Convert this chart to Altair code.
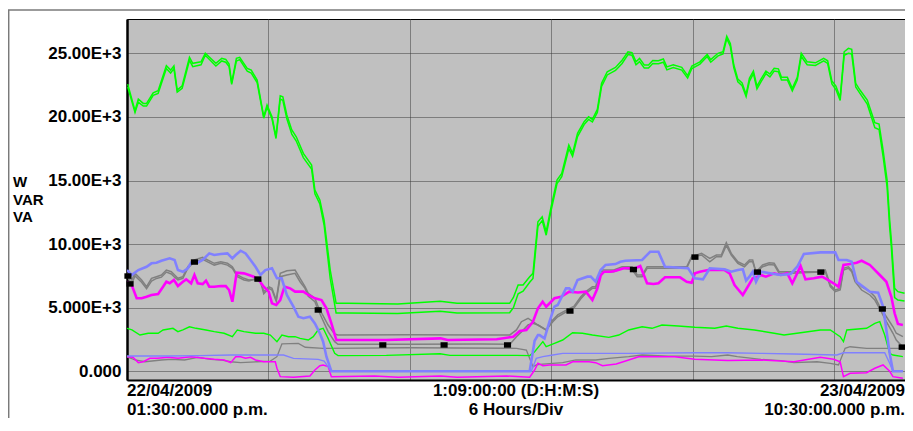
import altair as alt
import pandas as pd

# Time in hours after 22/04/2009 01:30 p.m.; span 33 h (1:09:00:00), 6 h per division
SPAN_H = 33
X_GRID = [6, 12, 18, 24, 30]
Y_TICKS = [0, 5000, 10000, 15000, 20000, 25000]
Y_DOMAIN = [-684, 27697]

LEFT_LABEL = ["22/04/2009", "01:30:00.000 p.m."]
CENTER_LABEL = ["1:09:00:00 (D:H:M:S)", "6 Hours/Div"]
RIGHT_LABEL = ["23/04/2009", "10:30:00.000 p.m."]
UNITS = ["W", "VAR", "VA"]

# (hour, VA, W) total
GREEN = [(0.03,22580,22350),(0.34,20480,20350),(0.48,21400,21150),(0.69,21060,20850),(0.83,21060,20850),
(1.11,21900,21700),(1.32,22060,21850),(1.67,24020,23800),(1.85,23680,23450),(1.99,24020,23800),
(2.13,22110,21950),(2.34,22450,22250),(2.65,24680,24450),(2.79,24210,23950),(3.14,24330,24100),
(3.32,25000,24850),(3.77,24210,24000),(4.02,24600,24400),(4.19,24520,24300),(4.33,24150,23950),
(4.44,22680,22550),(4.64,24600,24400),(4.78,24680,24500),(5.10,23820,23600),(5.27,23680,23450),
(5.52,22900,22700),(5.80,20010,19900),(5.94,20930,20750),(6.15,20010,19850),(6.32,18440,18300),
(6.50,21660,21400),(6.61,21580,21300),(6.78,20150,19850),(6.99,18970,18650),(7.18,18440,18100),
(7.48,17130,16800),(7.83,16220,15900),(7.97,14250,13950),(8.18,13460,13150),(8.36,11890,11500),
(8.62,7960,7300),(8.87,5345,4580),(9.37,5345,4580),(11.48,5300,4550),(13.28,5500,4720),(14.00,5345,4580),
(16.23,5345,4600),(16.39,5800,5000),(16.59,6780,6100),(16.80,6780,6300),(17.08,7440,7000),(17.22,7700,7300),
(17.43,11760,11400),(17.61,12150,11850),(17.78,10970,10700),(17.99,12940,12650),(18.24,15040,14750),
(18.44,15560,15300),(18.74,17790,17500),(18.90,17130,16900),(19.11,18710,18450),(19.39,19620,19400),
(19.58,20010,19800),(19.74,19810,19600),(19.95,20590,20350),(20.13,22640,22400),(20.37,23550,23300),
(20.72,23890,23650),(21.00,24450,24200),(21.25,25120,24900),(21.42,25050,24850),(21.59,24330,24100),
(21.74,24600,24350),(21.94,24080,23850),(22.12,24080,23850),(22.30,24440,24200),(22.54,24410,24180),
(22.75,24550,24300),(22.90,23930,23700),(23.17,24100,23880),(23.53,23900,23680),(23.78,23250,23050),
(23.96,24000,23800),(24.30,24330,24150),(24.61,24920,24750),(24.76,24500,24300),(25.07,25000,24800),
(25.28,25120,24950),(25.44,26350,26150),(25.59,25780,25550),(25.74,24080,23850),(25.91,22970,22750),
(26.09,22680,22450),(26.26,21770,21600),(26.40,23030,22800),(26.57,23600,23400),(26.72,22420,22200),
(26.89,22970,22750),(27.10,23600,23400),(27.27,23370,23150),(27.45,23820,23600),(27.63,23780,23550),
(27.76,23110,22900),(28.01,23110,22900),(28.22,22240,22050),(28.43,23110,22900),(28.60,25000,24750),
(28.85,24330,24100),(29.20,24250,24050),(29.55,24600,24400),(29.72,24410,24200),(29.90,22820,22600),
(30.07,22420,22150),(30.25,21530,21300),(30.42,25120,24850),(30.60,25390,25000),(30.74,25310,24950),
(30.91,22640,22350),(31.09,22110,21850),(31.40,21320,21000),(31.72,19540,19150),(31.90,19440,19000),
(32.07,17390,16900),(32.24,15040,14500),(32.35,11890,11300),(32.42,10320,9800),(32.56,6520,5800),
(32.70,6260,5600),(32.98,6130,5530)]

GREEN_VAR = [(0.00,3380),(0.21,3250),(0.55,2850),(0.90,2990),(1.32,2990),(1.53,3250),(1.95,3380),(2.16,3120),
(2.37,3250),(2.65,3500),(2.93,3380),(3.35,3250),(3.70,3120),(4.12,2990),(4.47,2720),(4.68,3250),(4.96,3120),
(5.45,2990),(5.80,2990),(6.08,2850),(6.36,2330),(6.57,2850),(6.85,2720),(7.13,2720),(7.34,2590),(7.69,2460),
(7.90,2720),(8.11,3250),(8.32,3380),(8.53,2590),(8.81,1410),(8.95,1230),(11.0,1250),(13.28,1380),(13.7,1250),
(16.52,1250),(17.08,1230),(17.29,1540),(17.64,2330),(17.78,1930),(18.13,2200),(18.48,2460),(18.90,3030),
(19.32,2990),(19.74,2850),(20.44,2670),(20.86,2850),(21.28,3250),(21.85,3500),(22.27,3380),(22.69,3640),
(23.38,3560),(24.09,3460),(24.93,3380),(25.42,3560),(25.91,3380),(26.61,3250),(27.45,2990),(27.87,2850),
(28.57,3030),(29.41,3250),(29.83,3250),(30.25,2720),(30.39,2330),(30.53,3250),(31.37,3380),(31.72,3770),
(31.93,3900),(32.14,2850),(32.35,1410),(32.49,1280),(32.91,1150)]

# (hour, VA, W) phase shown in gray
GRAY = [(0.00,7700,7490),(0.20,7180,6900),(0.34,7700,7500),(0.62,7180,7000),(0.83,6650,6500),(1.04,7310,7100),
(1.25,7440,7300),(1.46,7570,7400),(1.67,7960,7800),(1.88,7830,7650),(2.02,7570,7400),(2.16,7310,7180),
(2.37,7440,7310),(2.58,8220,8100),(2.86,8750,8590),(3.21,8960,8800),(3.42,8750,8600),(3.70,8490,8350),
(3.98,8610,8490),(4.26,8490,8350),(4.47,8220,8100),(4.68,7570,7440),(4.96,7310,7180),(5.17,7180,7100),
(5.45,7230,7250),(5.66,7180,7050),(5.80,6260,6100),(6.01,6650,6520),(6.15,6520,6390),(6.33,5600,5500),
(6.50,7700,7440),(6.78,7910,7570),(7.13,7960,7700),(7.34,7310,7040),(7.55,6650,6520),(7.69,6130,5900),
(7.97,5740,5470),(8.11,5080,4820),(8.53,3640,3120),(8.81,2930,2330),(8.95,2860,2120),(12.0,2880,2120),
(15.0,2860,2140),(16.24,2860,2120),(16.52,3250,2720),(16.73,3900,3100),(17.01,4170,3640),(17.22,3900,3770),
(17.43,3640,3640),(17.78,3250,3250),(18.06,4030,3900),(18.27,4430,4290),(18.69,4870,4740),(18.97,5130,5000),
(19.25,5860,5700),(19.46,6260,6130),(19.74,6650,6520),(19.88,6650,6520),(20.09,7960,7830),(20.37,7960,7830),
(20.65,7960,7830),(21.00,8220,8100),(21.42,8220,8000),(21.64,7570,7440),(21.85,7570,7440),(22.06,8220,8100),
(22.82,8220,8100),(23.74,8220,8100),(23.95,9010,8980),(24.37,9270,9140),(24.72,8880,8610),(25.00,9140,9010),
(25.21,9140,9010),(25.42,10110,9900),(25.63,9270,9140),(25.91,8610,8490),(26.19,8360,8220),(26.40,8750,8610),
(26.54,8750,8610),(26.68,7800,7750),(26.96,8360,8220),(27.24,8540,8400),(27.45,8490,8360),(27.66,7830,7700),
(28.15,7830,7700),(29.41,7830,7800),(29.62,7960,7830),(29.83,6780,6650),(30.04,6390,6260),(30.25,6520,6390),
(30.39,8100,7960),(30.60,8220,8100),(30.74,7960,7830),(30.88,7180,7040),(31.16,6650,6390),(31.51,6260,6000),
(31.72,5860,5600),(31.93,5080,4900),(32.21,4290,3900),(32.49,3500,2990),(32.63,2990,2460),(32.91,2720,1900)]

GRAY_VAR = [(0.00,1150),(0.34,890),(0.76,750),(1.46,890),(1.88,940),(2.44,890),(3.00,1100),(3.56,940),(3.98,890),
(4.40,750),(4.82,680),(5.52,750),(6.08,800),(6.36,1150),(6.57,2150),(7.27,2200),(7.56,1890),(8.32,1810),
(12.0,1850),(16.52,1810),(16.94,1670),(17.22,360),(17.36,500),(17.64,570),(18.48,680),(19.04,890),(19.88,890),
(20.44,1020),(21.28,1150),(21.85,1280),(22.96,1200),(24.08,1200),(24.79,1150),(25.48,1280),(25.89,1150),
(26.89,940),(27.73,840),(28.29,680),(29.27,750),(29.83,630),(30.18,500),(30.46,1810),(30.67,1930),
(31.37,1810),(32.91,1810)]

MAGENTA = [(0.00,7040),(0.20,6780),(0.41,5740),(0.62,5740),(0.83,5860),(1.04,6000),(1.32,6080),(1.53,6650),
(1.67,7040),(1.81,6920),(1.99,7180),(2.16,6700),(2.37,7040),(2.51,7230),(2.72,6920),(2.86,7570),(3.00,6920),
(3.21,6860),(3.35,7130),(3.49,6650),(3.70,6650),(3.98,6700),(4.19,6700),(4.33,6390),(4.47,5470),(4.65,7750),
(4.96,7700),(5.17,7570),(5.38,7440),(5.59,7180),(5.80,6650),(6.01,6260),(6.15,5340),(6.33,5210),(6.50,5600),
(6.68,6650),(6.92,6520),(7.13,6260),(7.48,6260),(7.69,6000),(7.97,5740),(8.25,5600),(8.46,4950),(8.67,3770),
(8.88,2460),(11.0,2460),(13.30,2590),(13.6,2460),(15.68,2520),(16.38,2720),(16.66,3170),(16.94,3250),
(17.22,3900),(17.43,4950),(17.63,5470),(17.78,5080),(17.99,5470),(18.13,5740),(18.41,5860),(18.76,6260),
(19.13,6200),(19.46,6260),(19.74,5600),(19.95,6500),(20.10,7570),(20.24,7830),(20.52,7830),(20.73,7900),
(21.07,8100),(21.56,8100),(21.77,8280),(22.06,6920),(22.33,6860),(22.54,6920),(22.82,7390),(23.46,7390),
(23.74,7040),(23.95,6960),(24.09,7700),(24.30,7830),(24.65,7960),(25.35,7960),(25.56,7700),(25.77,6780),
(26.12,6000),(26.33,6650),(26.54,7310),(26.75,7440),(26.89,7570),(27.10,7440),(27.45,7700),(27.73,7570),
(28.01,7700),(28.22,6920),(28.36,7440),(28.57,8280),(28.78,7230),(29.13,7310),(29.48,7440),(29.69,7230),
(29.97,6920),(30.18,6650),(30.39,8360),(30.67,8430),(30.95,8540),(31.16,8690),(31.51,8360),(31.93,7570),
(32.21,7040),(32.42,5860),(32.56,4560),(32.70,3720),(32.91,3640)]

MAGENTA_VAR = [(0.00,1150),(0.25,1100),(0.48,680),(0.69,750),(0.97,1020),(1.30,1020),(1.74,1100),(2.16,1020),
(2.72,1150),(3.28,1020),(3.70,940),(4.12,890),(4.40,680),(4.61,1150),(4.82,1150),(5.03,1020),(5.24,1100),
(5.45,890),(5.80,750),(6.29,750),(6.36,240),(6.50,-420),(7.06,-470),(7.76,-370),(7.97,100),(8.18,440),
(8.32,500),(8.53,370),(8.67,-420),(10.50,-370),(11.5,-470),(13.30,-370),(14.0,-470),(16.10,-370),(17.08,-470),
(17.29,100),(17.43,630),(17.64,440),(17.92,500),(18.62,500),(18.90,750),(19.60,750),(19.88,680),(20.17,440),
(20.75,570),(21.28,890),(21.70,1150),(23.24,1150),(24.08,940),(25.48,840),(26.89,890),(28.29,750),
(29.41,1100),(29.97,940),(30.25,750),(30.39,-420),(30.67,-160),(31.37,-110),(31.72,240),(32.07,500),
(32.35,0),(32.49,-420),(32.91,-550)]

BLUE = [(0.00,7960),(0.20,7570),(0.48,7960),(0.83,8220),(1.04,8490),(1.25,8540),(1.46,8690),(1.81,8880),
(2.02,8750),(2.16,7960),(2.37,7830),(2.58,8100),(2.72,8540),(3.00,8540),(3.21,8750),(3.49,9270),(3.70,9140),
(3.98,9220),(4.26,9270),(4.47,8880),(4.61,9140),(4.82,9480),(5.03,9270),(5.24,8750),(5.45,8220),(5.66,7570),
(5.87,7960),(6.15,8100),(6.36,7310),(6.56,7310),(6.78,6000),(7.06,5080),(7.27,4290),(7.48,4170),(7.76,4290),
(7.97,3770),(8.18,2990),(8.32,2330),(8.46,1150),(8.67,0),(17.08,0),(17.29,2400),(17.43,2850),(17.50,2850),
(17.71,2590),(17.92,3900),(18.13,5080),(18.27,5210),(18.48,6000),(18.62,6520),(18.76,6520),(18.90,6260),
(19.11,7180),(19.53,7440),(19.67,7440),(19.88,7040),(20.09,7960),(20.30,8360),(20.72,8430),(20.93,8610),
(21.14,8690),(21.85,8750),(22.19,9400),(22.54,9400),(22.82,8220),(23.80,8100),(23.94,7700),(24.08,7310),
(24.43,7230),(24.72,8100),(25.35,8020),(25.63,7830),(25.91,7960),(26.12,8020),(26.26,7130),(26.40,7440),
(26.54,7830),(26.68,7040),(26.89,7830),(27.45,7650),(27.73,7570),(28.15,7650),(28.43,8220),(28.71,9220),
(29.41,9350),(30.04,9350),(30.18,8750),(30.53,8750),(30.74,8610),(30.95,7040),(31.23,6650),(31.51,6260),
(31.86,6180),(32.07,5080),(32.21,3250),(32.35,1410),(32.49,0),(32.91,0)]

BLUE_VAR = [(0.00,1200),(1.81,1200),(3.07,1230),(4.40,1280),(6.36,1280),(6.64,1280),(7.06,1020),(8.11,940),
(8.36,800),(8.67,0),(17.15,0),(17.36,1020),(17.64,1150),(18.06,1280),(18.48,1410),(21.27,1410),(24.08,1460),
(25.48,1460),(26.89,1410),(28.29,1360),(30.11,1280),(30.39,1460),(32.14,1460),(32.35,630),(32.49,0),(32.91,0)]

MARKERS = [(0.04,7490),(0.13,6870),(2.86,8590),(5.55,7250),(8.11,4820),(10.85,2070),(13.45,2070),(16.14,2070),
(18.79,4740),(21.48,8000),(24.09,8980),(26.74,7800),(29.43,7800),(32.04,4900),(32.88,1900)]

GREEN_C = "#00ff00"
MAGENTA_C = "#ff00ff"
BLUE_C = "#8080ff"
GRAY_C = "#808080"
FONT = "Liberation Sans"

W, H = 778, 361


def frame(points, col=1):
    return pd.DataFrame({"t": [p[0] for p in points], "v": [p[col] for p in points]})


X_SCALE = alt.Scale(domain=[0, SPAN_H], nice=False, zero=False)
X_ENC = alt.X("t:Q", scale=X_SCALE,
              axis=alt.Axis(values=X_GRID, labels=False, ticks=False, title=None, grid=True,
                            gridColor="#3a3a3a", gridDash=[1, 1], gridWidth=1,
                            domain=True, domainColor="black", domainWidth=2))
Y_ENC = alt.Y("v:Q", scale=alt.Scale(domain=Y_DOMAIN, nice=False, zero=False),
              axis=alt.Axis(values=Y_TICKS, ticks=False, title=None, grid=True,
                            gridColor="#3a3a3a", gridDash=[1, 1], gridWidth=1,
                            domain=True, domainColor="black", domainWidth=2.5,
                            labelPadding=6, labelFont=FONT, labelFontSize=17,
                            labelFontWeight="bold", labelColor="black",
                            labelExpr="datum.value == 0 ? '0.000' : (datum.value < 10000 ? format(datum.value/1000, '.3f') : format(datum.value/1000, '.2f')) + 'E+3'"))


def line(df, color, width):
    return alt.Chart(df).mark_line(color=color, strokeWidth=width, clip=True).encode(x=X_ENC, y=Y_ENC)


layers = [
    line(frame(GRAY_VAR), GRAY_C, 1.3),
    line(frame(MAGENTA_VAR), MAGENTA_C, 1.5),
    line(frame(BLUE_VAR), BLUE_C, 1.4),
    line(frame(GREEN_VAR), GREEN_C, 1.4),
    line(frame(GRAY, 1), GRAY_C, 1.5),
    line(frame(GRAY, 2), GRAY_C, 1.5),
    line(frame(MAGENTA), MAGENTA_C, 2.6),
    line(frame(BLUE), BLUE_C, 2.6),
    line(frame(GREEN, 2), GREEN_C, 1.5),
    line(frame(GREEN, 1), GREEN_C, 1.5),
    alt.Chart(frame(MARKERS)).mark_point(shape="M-1.3,-1H1.3V1H-1.3Z", filled=True, color="black",
                                         size=30, opacity=1).encode(x=X_ENC, y=Y_ENC),
]

# bottom labels (two lines each)
for labels, xpos, align in [(LEFT_LABEL, 0, "left"), (CENTER_LABEL, SPAN_H / 2, "center"),
                            (RIGHT_LABEL, SPAN_H, "right")]:
    for i, lab in enumerate(labels):
        layers.append(
            alt.Chart(pd.DataFrame({"label": [lab]})).mark_text(
                font=FONT, fontSize=17, fontWeight="bold", color="black", align=align,
                baseline="alphabetic").encode(
                x=alt.X(datum=xpos, scale=X_SCALE),
                y=alt.value(H + 16 + i * 18.5), text="label:N"))

# units label at left
for i, lab in enumerate(UNITS):
    layers.append(
        alt.Chart(pd.DataFrame({"label": [lab]})).mark_text(
            font=FONT, fontSize=15, fontWeight="bold", color="black", align="left",
            baseline="alphabetic").encode(x=alt.value(-114), y=alt.value(168 + i * 17.7), text="label:N"))

# outer window frame
dummy = pd.DataFrame({"a": [0]})
layers.append(alt.Chart(dummy).mark_rule(color="#7a7a7a", strokeWidth=1.5).encode(
    x=alt.value(-119), x2=alt.value(W), y=alt.value(-9)))
layers.append(alt.Chart(dummy).mark_rule(color="#7a7a7a", strokeWidth=1.5).encode(
    x=alt.value(-118.3), y=alt.value(-9), y2=alt.value(H + 40)))

chart = alt.layer(*layers).properties(
    width=W, height=H,
    autosize=alt.AutoSizeParams(type="none"),
    padding={"left": 119, "top": 11, "right": 0, "bottom": 38},
    background="white",
).configure_view(fill="#c0c0c0", stroke="black", strokeWidth=1)

chart.save("out.html", embed_options={"renderer": "svg", "actions": False})
